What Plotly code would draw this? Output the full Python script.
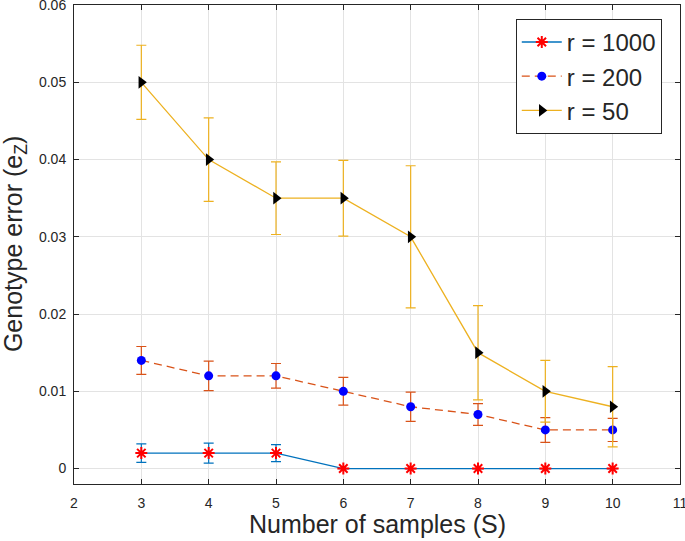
import plotly.graph_objects as go

S = [3, 4, 5, 6, 7, 8, 9, 10]
err_r1000 = [0.002, 0.002, 0.002, 0, 0, 0, 0, 0]
sd_r1000 = [0.0012, 0.0013, 0.0011, 0, 0, 0, 0, 0]
err_r200 = [0.014, 0.012, 0.012, 0.010, 0.008, 0.007, 0.005, 0.005]
sd_r200 = [0.0018, 0.0019, 0.0016, 0.0018, 0.0019, 0.0014, 0.0016, 0.0015]
err_r50 = [0.050, 0.040, 0.035, 0.035, 0.030, 0.015, 0.010, 0.008]
sd_r50 = [0.0048, 0.0054, 0.0047, 0.0049, 0.0092, 0.0061, 0.0040, 0.0052]

x_ticks = [2, 3, 4, 5, 6, 7, 8, 9, 10, 11]
y_ticks = [0, 0.01, 0.02, 0.03, 0.04, 0.05, 0.06]
y_tick_labels = ["0", "0.01", "0.02", "0.03", "0.04", "0.05", "0.06"]

FONT = "Liberation Sans, Arial, Helvetica, sans-serif"

def eb(arr, color):
    return dict(type="data", array=[v if v > 0 else None for v in arr],
                visible=True, color=color, thickness=1.2, width=5)

fig = go.Figure()
fig.add_trace(go.Scatter(
    x=S, y=err_r1000, name="r = 1000", mode="lines+markers",
    line=dict(color="#0072BD", width=1.3),
    marker=dict(symbol="asterisk-open", size=10, color="red",
                line=dict(color="red", width=2)),
    error_y=eb(sd_r1000, "#0072BD")))
fig.add_trace(go.Scatter(
    x=S, y=err_r200, name="r = 200", mode="lines+markers",
    line=dict(color="#D95319", width=1.3, dash="8px,5px"),
    marker=dict(symbol="circle", size=9, color="blue"),
    error_y=eb(sd_r200, "#D95319")))
fig.add_trace(go.Scatter(
    x=S, y=err_r50, name="r = 50", mode="lines+markers",
    line=dict(color="#EDB120", width=1.3),
    marker=dict(symbol="triangle-right", size=11, color="black"),
    error_y=eb(sd_r50, "#EDB120")))

axis_common = dict(showline=True, linecolor="#262626", linewidth=1, mirror="ticks",
                   ticks="inside", ticklen=5, tickcolor="#262626", automargin=False,
                   ticklabeloverflow="allow",
                   showgrid=True, gridcolor="#e3e3e3", gridwidth=1, zeroline=False,
                   tickfont=dict(family=FONT, size=14, color="#262626"))

fig.update_layout(
    width=685, height=541,
    margin=dict(l=74, r=5, t=5, b=57),
    plot_bgcolor="white", paper_bgcolor="white",
    font=dict(family=FONT, color="#262626"),
    xaxis=dict(range=[2, 11.0001], tickvals=x_ticks, ticklabelstandoff=6, **axis_common),
    yaxis=dict(range=[-0.002, 0.06001], tickvals=y_ticks, ticktext=y_tick_labels,
               ticklabelstandoff=4, **axis_common),
    legend=dict(x=0.729, y=0.971, xanchor="left", yanchor="top",
                bgcolor="white", bordercolor="#262626", borderwidth=1,
                font=dict(family=FONT, size=24, color="#262626"),
                itemwidth=40, tracegroupgap=0),
    showlegend=True,
    annotations=[
        dict(text="Number of samples (S)", xref="paper", yref="paper",
             x=0.5, y=-0.084, xanchor="center", yanchor="middle", showarrow=False,
             font=dict(family=FONT, size=25, color="#262626")),
        dict(text="Genotype error (e<sub>Z</sub>)", xref="paper", yref="paper",
             x=-0.098, y=0.5, xanchor="center", yanchor="middle", showarrow=False,
             textangle=-90, font=dict(family=FONT, size=25, color="#262626")),
    ],
)

fig.write_html("out.html", config={"displayModeBar": False},
               post_script="document.body.style.margin='0px';document.body.style.padding='0px';")
